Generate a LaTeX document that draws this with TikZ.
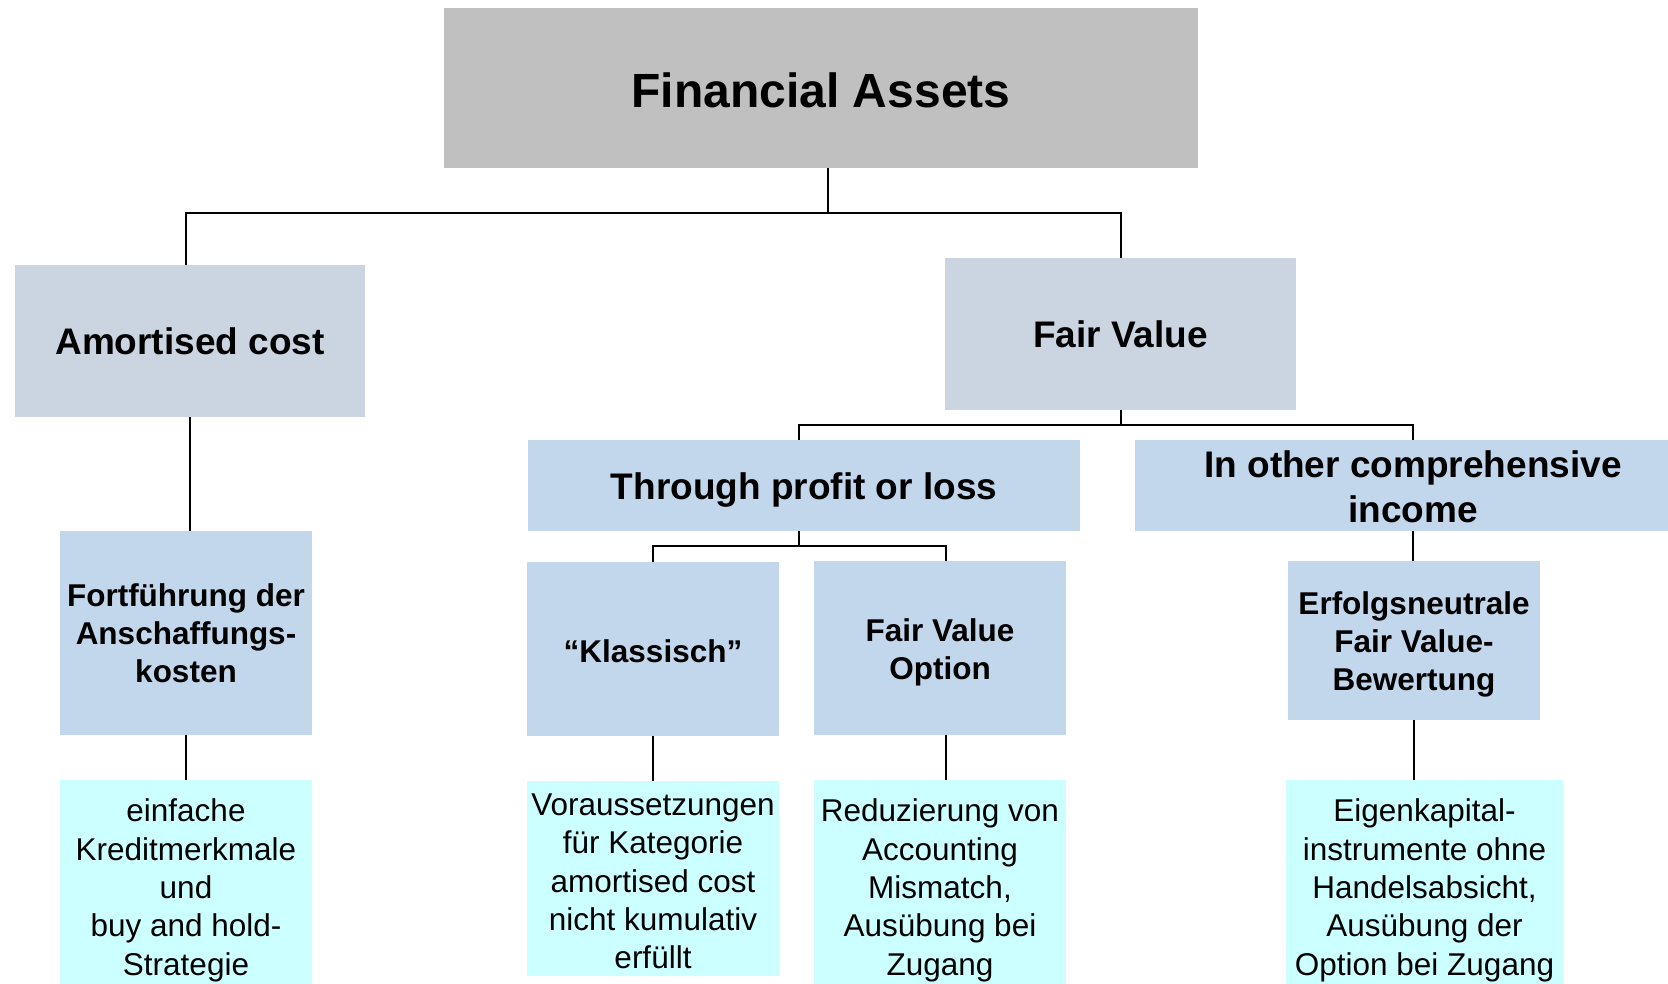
\documentclass[tikz,border=0pt]{standalone}
\usepackage{fontspec}
\setmainfont{Liberation Sans}
\usepackage{xcolor}
\usepackage{tikz}
\usetikzlibrary{positioning,calc}

\definecolor{headgray}{HTML}{C0C0C0}
\definecolor{catblue}{HTML}{CBD5E1}
\definecolor{subblue}{HTML}{C2D7EB}
\definecolor{notecyan}{HTML}{CCFFFF}

% extra room above the first line, pushes the text down
\newcommand{\padtop}[1]{\rule{0pt}{\dimexpr.75em+#1\relax}}

\begin{document}
\begin{tikzpicture}[x=1pt,y=-1pt,
  box/.style={inner sep=0pt,outer sep=0pt,align=center},
  head/.style={box,fill=headgray,font=\fontsize{48}{58}\selectfont\bfseries},
  category/.style={box,fill=catblue,font=\fontsize{37}{44.4}\selectfont\bfseries},
  branch/.style={box,fill=subblue,font=\fontsize{37}{44.4}\selectfont\bfseries},
  method/.style={box,fill=subblue,font=\fontsize{31.5}{38}\selectfont\bfseries},
  note/.style={box,fill=notecyan,font=\fontsize{31.5}{38.3}\selectfont},
  link/.style={line width=2pt,black}]

    \clip (0,0) rectangle (1668,984);

    % top and categories
    \node[head,minimum width=754pt,minimum height=160pt] (fa) at (821,88) {\padtop{4pt}Financial Assets};
    \node[category,minimum width=350pt,minimum height=152pt] (amort) at (190,341) {Amortised cost};
    \node[category,minimum width=351pt,minimum height=152pt] (fv) at (1120.5,334) {Fair Value};

    % fair value branches
    \node[branch,minimum width=552pt,minimum height=91pt] (tpl) at (804,485.5) {\padtop{8pt}Through profit or loss};
    \node[branch,minimum width=556pt,minimum height=91pt] (oci) at (1413,485.5) {\padtop{2pt}In other comprehensive\\income};

    % methods
    \node[method,minimum width=252pt,minimum height=204pt] (fort) at (186,633) {Fortführung der\\Anschaffungs-\\kosten};
    \node[method,minimum width=252pt,minimum height=174pt] (klass) at (653,649) {\padtop{4pt}“Klassisch”};
    \node[method,minimum width=252pt,minimum height=174pt] (fvo) at (940,648) {\padtop{8pt}Fair Value\\Option};
    \node[method,minimum width=252pt,minimum height=159pt] (erf) at (1414,640.5) {\padtop{8pt}Erfolgsneutrale\\Fair Value-\\Bewertung};

    % notes
    \node[note,minimum width=252pt,minimum height=210pt] (einf) at (186,885) {\padtop{10pt}einfache\\Kreditmerkmale\\und\\buy and hold-\\Strategie};
    \node[note,minimum width=252pt,minimum height=195pt] (vor) at (653,878.5) {\padtop{4pt}Voraussetzungen\\für Kategorie\\amortised cost\\nicht kumulativ\\erfüllt};
    \node[note,minimum width=252pt,minimum height=210pt] (red) at (940,885) {\padtop{10pt}Reduzierung von\\Accounting\\Mismatch,\\Ausübung bei\\Zugang};
    \node[note,minimum width=277pt,minimum height=210pt] (eig) at (1424.5,885) {\padtop{10pt}Eigenkapital-\\instrumente ohne\\Handelsabsicht,\\Ausübung der\\Option bei Zugang};

    \draw[link] ([xshift=7pt]fa.south) -- ++(0,45) coordinate (bus1);
    \draw[link] (amort.north -| fort.north) |- (bus1) -| (fv.north);
    \draw[link] (fv.south) -- ++(0,15) coordinate (bus2);
    \draw[link] ([xshift=-5pt]tpl.north) |- (bus2) -| (oci.north);
    \draw[link] ([xshift=-5pt]tpl.south) -- ++(0,15) coordinate (bus3);
    \draw[link] (klass.north) |- (bus3) -| ([xshift=6pt]fvo.north);

    \draw[link] (amort.south) -- (amort.south |- fort.north);
    \draw[link] (oci.south) -- (oci.south |- erf.north);
    \draw[link] (fort.south) -- (einf.north);
    \draw[link] (klass.south) -- (vor.north);
    \draw[link] ([xshift=6pt]fvo.south) -- ([xshift=6pt]red.north);
    \draw[link] (erf.south) -- (erf.south |- eig.north);
\end{tikzpicture}
\end{document}
